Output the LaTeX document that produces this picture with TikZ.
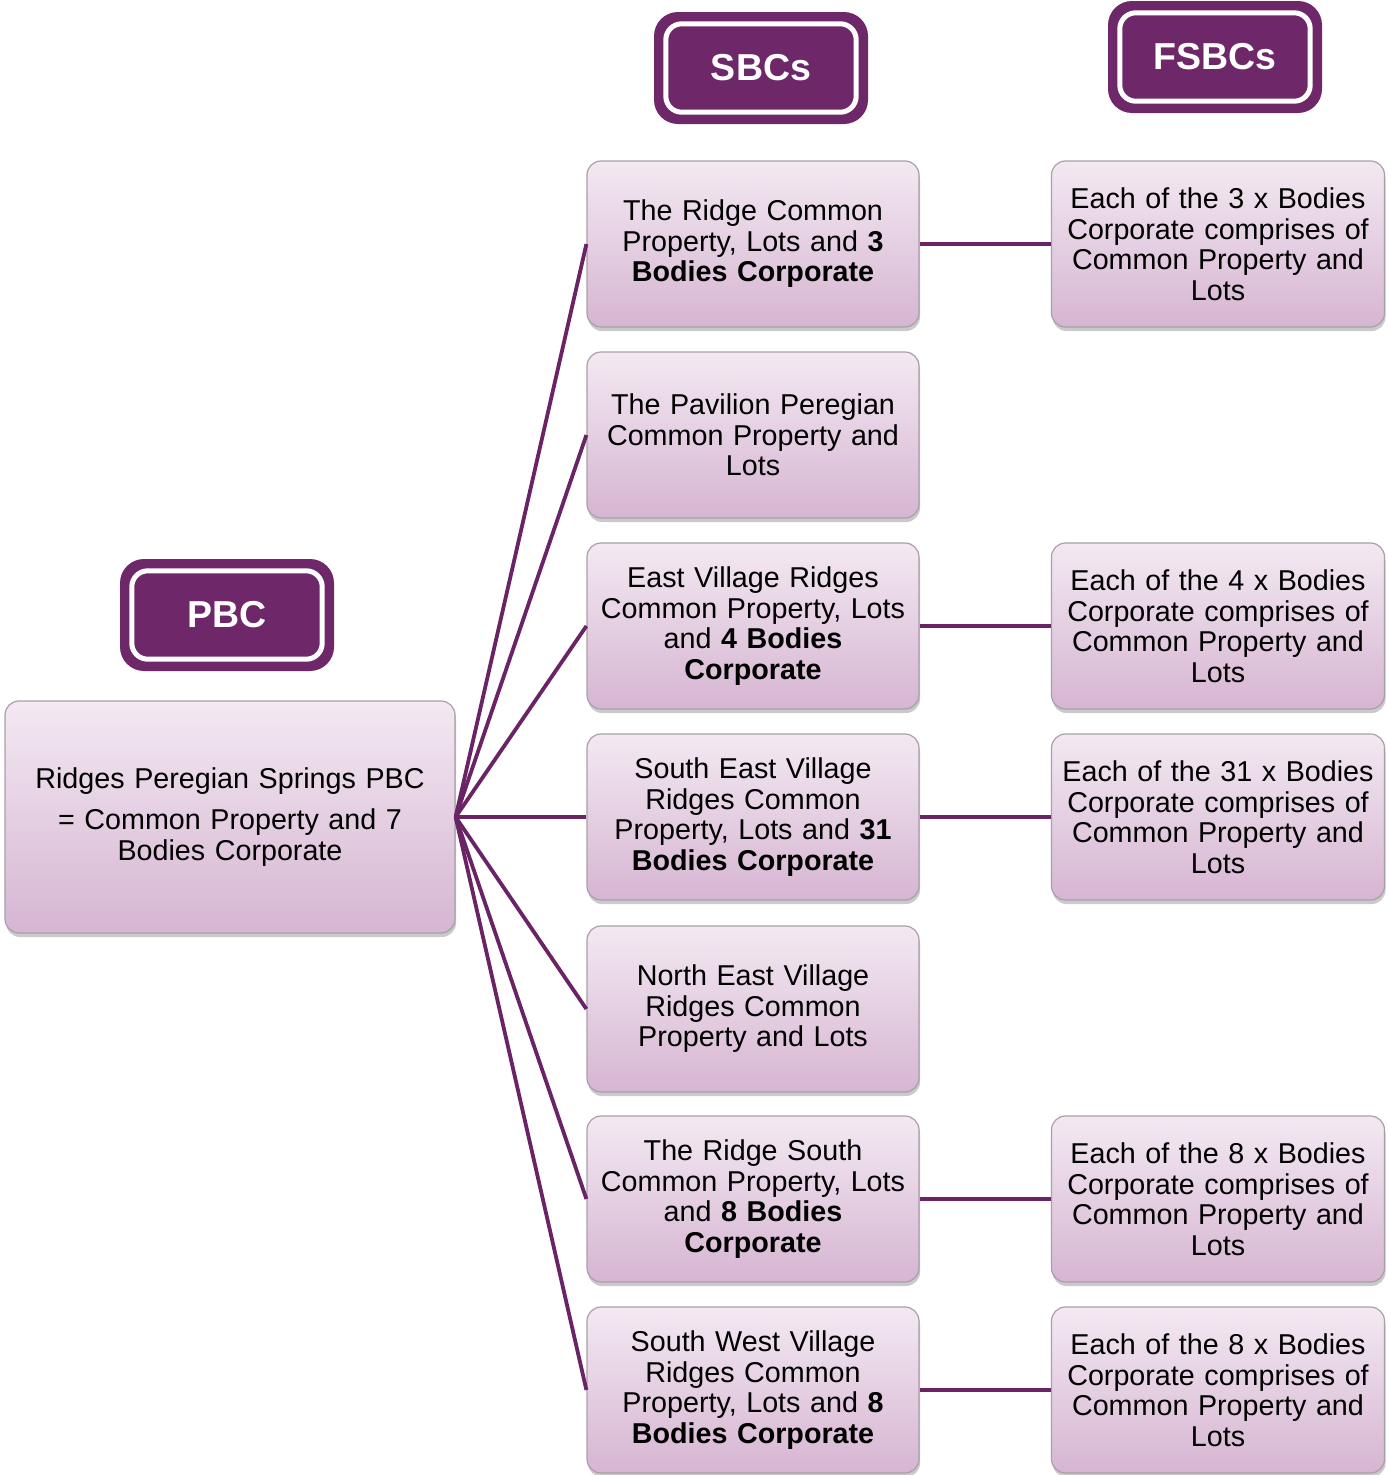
\documentclass[tikz,border=0pt]{standalone}
\usepackage{fontspec}
\setmainfont{Liberation Sans}
\usetikzlibrary{shadows,calc}
\definecolor{purp}{HTML}{6E2869}
\definecolor{conncol}{HTML}{6A2465}
\definecolor{boxtop}{HTML}{F3E9F2}
\definecolor{boxbot}{HTML}{D6B5D2}
\definecolor{boxline}{HTML}{A8A0A6}
\newcommand{\bfs}{\fontsize{28.7}{30.5}\selectfont}
\newcommand{\hfs}{\fontsize{37.5}{40}\selectfont\bfseries}
\tikzset{
  box/.style={rectangle, rounded corners=14pt, draw=boxline, line width=1.2pt,
    top color=boxtop, bottom color=boxbot, minimum width=332pt, minimum height=166pt,
    align=center, text width=326pt, font=\bfs, inner sep=0pt,
    drop shadow={shadow xshift=1pt, shadow yshift=-4pt, opacity=0.35, fill=black!60}},
  hdr/.style={rectangle, rounded corners=24pt, fill=purp, minimum width=214pt,
    minimum height=112pt, text=white, font=\hfs, inner sep=0pt},
  inner/.style={draw=white, line width=5pt, rounded corners=16pt},
  conn/.style={draw=conncol, line width=3.8pt}
}
\begin{document}
\begin{tikzpicture}[x=1pt,y=-1pt]
\useasboundingbox (0,0) rectangle (1388,1475);
% headers
\node[hdr] (hs) at (761,68) {SBCs};
\node[hdr] (hf) at (1215,57) {FSBCs};
\node[hdr] (hp) at (227,615) {PBC};
\foreach \h in {hs,hf,hp}{
  \draw[inner] ($(\h.north west)+(12pt,-12pt)$) rectangle ($(\h.south east)+(-12pt,12pt)$);
}
% main PBC box
\node[box, minimum width=450pt, minimum height=232pt, text width=444pt] (pbc) at (230,817)
  {Ridges Peregian Springs PBC\\[11pt]= Common Property and 7\\Bodies Corporate};
% SBC column
\node[box] (s1) at (753,244) {The Ridge Common\\Property, Lots and \textbf{3}\\\textbf{Bodies Corporate}};
\node[box] (s2) at (753,435) {The Pavilion Peregian\\Common Property and\\Lots};
\node[box] (s3) at (753,626) {East Village Ridges\\Common Property, Lots\\and \textbf{4 Bodies}\\\textbf{Corporate}};
\node[box] (s4) at (753,817) {South East Village\\Ridges Common\\Property, Lots and \textbf{31}\\\textbf{Bodies Corporate}};
\node[box] (s5) at (753,1009) {North East Village\\Ridges Common\\Property and Lots};
\node[box] (s6) at (753,1199) {The Ridge South\\Common Property, Lots\\and \textbf{8 Bodies}\\\textbf{Corporate}};
\node[box] (s7) at (753,1390) {South West Village\\Ridges Common\\Property, Lots and \textbf{8}\\\textbf{Bodies Corporate}};
% FSBC column
\node[box, minimum width=333pt] (f1) at (1218,244) {Each of the 3 x Bodies\\Corporate comprises of\\Common Property and\\Lots};
\node[box, minimum width=333pt] (f3) at (1218,626) {Each of the 4 x Bodies\\Corporate comprises of\\Common Property and\\Lots};
\node[box, minimum width=333pt] (f4) at (1218,817) {Each of the 31 x Bodies\\Corporate comprises of\\Common Property and\\Lots};
\node[box, minimum width=333pt] (f6) at (1218,1199) {Each of the 8 x Bodies\\Corporate comprises of\\Common Property and\\Lots};
\node[box, minimum width=333pt] (f7) at (1218,1390) {Each of the 8 x Bodies\\Corporate comprises of\\Common Property and\\Lots};
% connectors
\foreach \s in {s1,s2,s3,s4,s5,s6,s7}{
  \draw[conn] (pbc.east) -- (\s.west);
}
\draw[conn] (s1.east) -- (f1.west);
\draw[conn] (s3.east) -- (f3.west);
\draw[conn] (s4.east) -- (f4.west);
\draw[conn] (s6.east) -- (f6.west);
\draw[conn] (s7.east) -- (f7.west);
\end{tikzpicture}
\end{document}
